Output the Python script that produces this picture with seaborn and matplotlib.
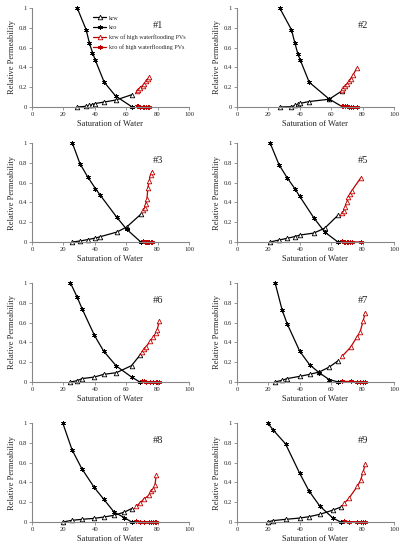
import numpy as np
import pandas as pd
import matplotlib
matplotlib.use("Agg")
import matplotlib.pyplot as plt
import seaborn as sns

sns.set_style("ticks")
plt.rcParams["font.family"] = ["Liberation Serif", "DejaVu Serif"]

# core samples, saturation of water (%) and relative permeabilities
labels = ["#1", "#2", "#3", "#5", "#6", "#7", "#8", "#9"]

sw_1 = [28.8, 34.5, 36.5, 38.5, 40.4, 46.0, 53.3, 63.8]
krw_1 = [0.0, 0.007, 0.015, 0.025, 0.035, 0.05, 0.07, 0.125]
kro_1 = [1.0, 0.78, 0.65, 0.55, 0.47, 0.25, 0.11, 0.0]
swh_1 = [66.6, 67.7, 68.7, 70.4, 71.5, 72.6, 73.8, 74.7]
krwh_1 = [0.16, 0.175, 0.195, 0.215, 0.235, 0.26, 0.285, 0.30]
kroh_1 = [0.006, 0.005, 0.004, 0.003, 0.002, 0.002, 0.001, 0.0]

sw_2 = [27.2, 34.7, 36.8, 38.7, 40.4, 46.0, 58.7, 66.6]
krw_2 = [0.0, 0.003, 0.015, 0.027, 0.037, 0.055, 0.078, 0.16]
kro_2 = [1.0, 0.78, 0.65, 0.54, 0.47, 0.25, 0.08, 0.007]
swh_2 = [66.6, 67.7, 68.7, 70.2, 71.3, 72.3, 73.8, 76.2]
krwh_2 = [0.17, 0.19, 0.21, 0.235, 0.26, 0.285, 0.32, 0.39]
kroh_2 = [0.01, 0.008, 0.006, 0.005, 0.004, 0.003, 0.002, 0.0]

sw_3 = [25.7, 30.6, 35.4, 40.4, 43.6, 54.0, 60.2, 69.3]
krw_3 = [0.0, 0.01, 0.024, 0.04, 0.054, 0.10, 0.15, 0.28]
kro_3 = [1.0, 0.79, 0.66, 0.54, 0.47, 0.25, 0.13, 0.0]
swh_3 = [70.9, 71.7, 72.3, 73.2, 73.8, 74.7, 75.5, 76.6]
krwh_3 = [0.32, 0.345, 0.38, 0.43, 0.55, 0.62, 0.68, 0.71]
kroh_3 = [0.006, 0.005, 0.004, 0.003, 0.002, 0.002, 0.001, 0.0]

sw_5 = [21.1, 26.8, 31.9, 36.8, 40.0, 48.9, 55.9, 64.3]
krw_5 = [0.0, 0.02, 0.037, 0.055, 0.07, 0.09, 0.14, 0.27]
kro_5 = [1.0, 0.78, 0.65, 0.54, 0.46, 0.245, 0.10, 0.0]
swh_5 = [66.6, 67.9, 68.7, 70.0, 70.9, 71.7, 73.2, 78.7]
krwh_5 = [0.29, 0.31, 0.35, 0.40, 0.45, 0.48, 0.52, 0.645]
kroh_5 = [0.006, 0.005, 0.004, 0.003, 0.003, 0.002, 0.001, 0.0]

sw_6 = [24.5, 28.7, 31.9, 39.8, 45.7, 53.8, 63.4, 68.7]
krw_6 = [0.0, 0.013, 0.034, 0.05, 0.077, 0.094, 0.165, 0.27]
kro_6 = [1.0, 0.86, 0.74, 0.47, 0.31, 0.16, 0.05, 0.0]
swh_6 = [69.8, 71.3, 72.6, 75.1, 77.2, 78.7, 79.8, 81.1]
krwh_6 = [0.30, 0.33, 0.355, 0.41, 0.45, 0.49, 0.53, 0.62]
kroh_6 = [0.006, 0.005, 0.004, 0.003, 0.002, 0.002, 0.001, 0.0]

sw_7 = [24.3, 28.7, 31.9, 40.0, 46.2, 52.3, 58.7, 64.5]
krw_7 = [0.0, 0.017, 0.034, 0.057, 0.077, 0.10, 0.15, 0.215]
kro_7 = [1.0, 0.73, 0.59, 0.31, 0.175, 0.094, 0.024, 0.0]
swh_7 = [67.0, 72.3, 76.2, 78.3, 80.4, 81.7]
krwh_7 = [0.26, 0.35, 0.45, 0.50, 0.62, 0.70]
kroh_7 = [0.006, 0.005, 0.003, 0.002, 0.001, 0.0]

sw_8 = [19.6, 25.5, 31.7, 39.6, 45.7, 52.3, 58.9, 63.4]
krw_8 = [0.0, 0.017, 0.027, 0.037, 0.05, 0.068, 0.10, 0.135]
kro_8 = [1.0, 0.73, 0.54, 0.35, 0.23, 0.10, 0.044, 0.0]
swh_8 = [66.2, 68.7, 71.1, 74.5, 75.7, 77.0, 78.3, 79.1]
krwh_8 = [0.16, 0.19, 0.23, 0.27, 0.315, 0.33, 0.37, 0.47]
kroh_8 = [0.006, 0.005, 0.004, 0.003, 0.002, 0.002, 0.001, 0.0]

sw_9 = [19.6, 23.0, 30.9, 40.0, 46.0, 52.8, 61.1, 66.0]
krw_9 = [0.0, 0.014, 0.027, 0.04, 0.054, 0.078, 0.12, 0.15]
kro_9 = [1.0, 0.93, 0.79, 0.49, 0.31, 0.16, 0.04, 0.0]
swh_9 = [68.3, 71.3, 76.6, 78.7, 80.4, 81.7]
krwh_9 = [0.19, 0.24, 0.36, 0.42, 0.51, 0.585]
kroh_9 = [0.006, 0.004, 0.003, 0.002, 0.001, 0.0]

panels = [
    (sw_1, krw_1, kro_1, swh_1, krwh_1, kroh_1),
    (sw_2, krw_2, kro_2, swh_2, krwh_2, kroh_2),
    (sw_3, krw_3, kro_3, swh_3, krwh_3, kroh_3),
    (sw_5, krw_5, kro_5, swh_5, krwh_5, kroh_5),
    (sw_6, krw_6, kro_6, swh_6, krwh_6, kroh_6),
    (sw_7, krw_7, kro_7, swh_7, krwh_7, kroh_7),
    (sw_8, krw_8, kro_8, swh_8, krwh_8, kroh_8),
    (sw_9, krw_9, kro_9, swh_9, krwh_9, kroh_9),
]

RED = "#C00000"
AXIS_GREY = "#868686"
asterisk = (6, 2, 0)

fig = plt.figure(figsize=(4.1, 5.5), dpi=100)
row_bottoms = [0.8055, 0.56, 0.3055, 0.0509]
col_lefts = [0.078, 0.578]
w, h = 0.383, 0.18

for i, (lab, (sw, krw, kro, swh, krwh, kroh)) in enumerate(zip(labels, panels)):
    ax = fig.add_axes([col_lefts[i % 2], row_bottoms[i // 2], w, h])

    common = dict(ax=ax, estimator=None, sort=False, linewidth=0.9,
                  markersize=3.3, markeredgewidth=0.6, clip_on=False)
    sns.lineplot(x=sw, y=krw, color="black", marker="^", mfc="white",
                 mec="black", label="krw", **common)
    sns.lineplot(x=sw, y=kro, color="black", marker=asterisk,
                 mec="black", label="kro", **common)
    sns.lineplot(x=swh, y=krwh, color=RED, marker="^", mfc="white",
                 mec=RED, label="krw of high waterflooding PVs", **common)
    sns.lineplot(x=swh, y=kroh, color=RED, marker=asterisk,
                 mec=RED, label="kro of high waterflooding PVs", **common)

    ax.set_xlim(0, 100)
    ax.set_ylim(0, 1)
    ax.set_xticks([0, 20, 40, 60, 80, 100])
    ax.set_yticks([0, 0.2, 0.4, 0.6, 0.8, 1])
    ax.set_yticklabels(["0", "0.2", "0.4", "0.6", "0.8", "1"])
    ax.tick_params(labelsize=4.8, length=2, width=0.6, color=AXIS_GREY, pad=1.5)
    for side in ["top", "right"]:
        ax.spines[side].set_visible(False)
    for side in ["left", "bottom"]:
        ax.spines[side].set_color(AXIS_GREY)
        ax.spines[side].set_linewidth(0.8)
    ax.set_xlabel("Saturation of Water", fontsize=6.0, labelpad=2.5)
    ax.set_ylabel("Relative Permeability", fontsize=6.0, labelpad=2)
    ax.text(0.8, 0.82, lab, transform=ax.transAxes, fontsize=7.5,
            ha="center", va="center")

    if i == 0:
        ax.legend(loc="upper left", bbox_to_anchor=(0.36, 0.97), frameon=False,
                  fontsize=4.4, handlelength=2.2, handletextpad=0.4,
                  labelspacing=0.7, borderpad=0.2)
    else:
        ax.get_legend().remove()

fig.savefig("out.png", dpi=100)
